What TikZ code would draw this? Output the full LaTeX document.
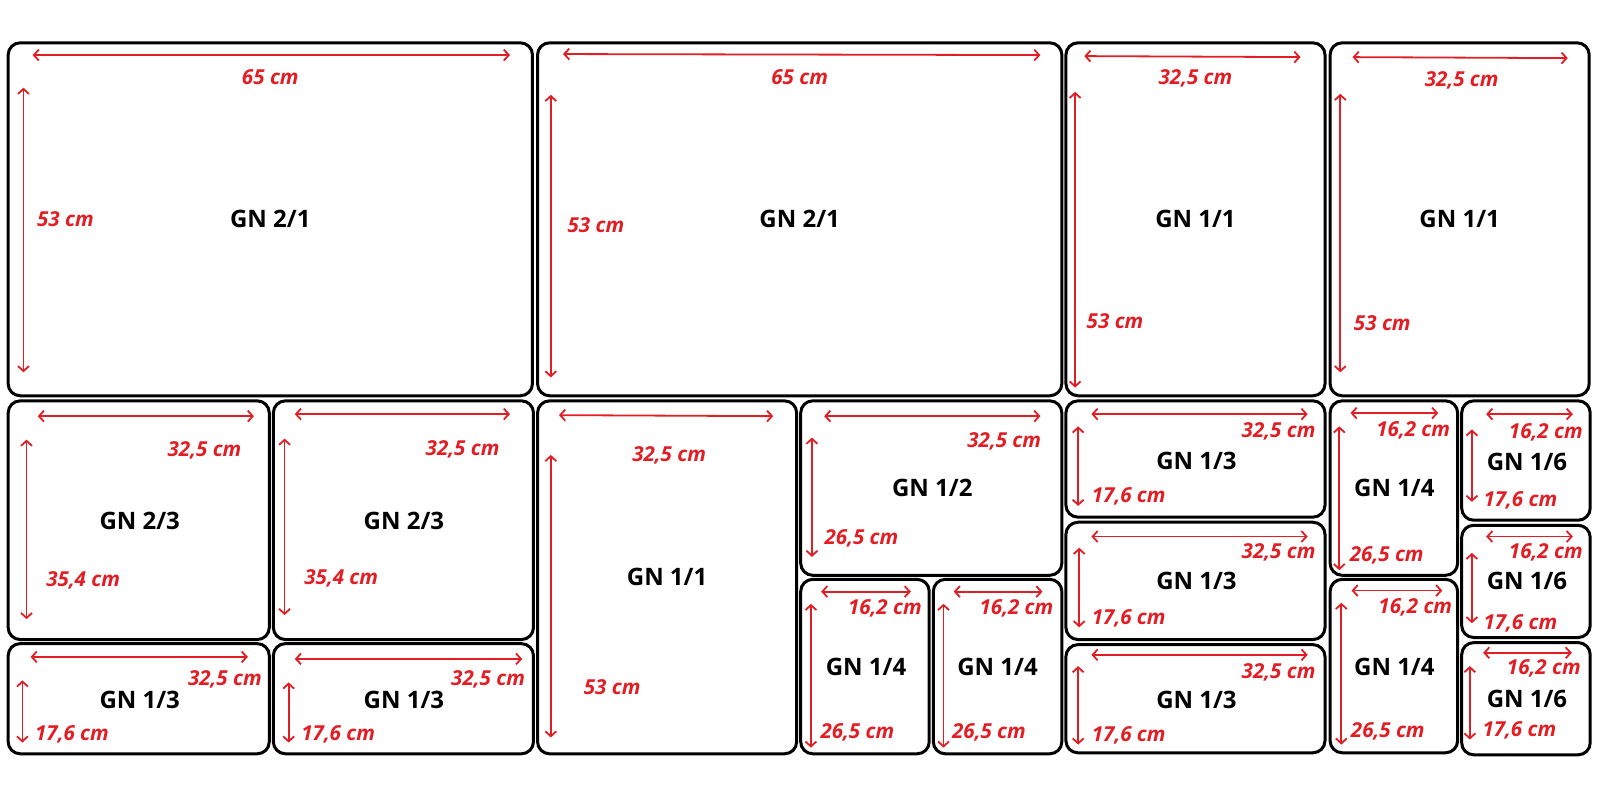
\documentclass[tikz,border=0pt]{standalone}
\usepackage{fontspec}
\setmainfont{Open Sans}
\usetikzlibrary{arrows.meta}
\definecolor{dimred}{RGB}{226,29,36}

\begin{document}
\begin{tikzpicture}[x=0.51pt,y=-0.51pt,
    pan/.style={draw=black,line width=1.5pt,rounded corners=6pt},
    gn/.style={inner sep=0pt,font=\fontsize{12}{14}\selectfont\bfseries},
    dim/.style={draw=dimred,line width=0.9pt,>={Straight Barb[length=2.5pt,width=5.5pt]},<->},
    size/.style={text=dimred,inner sep=0pt,font=\fontsize{10.3}{12}\selectfont\bfseries\itshape}]
    \useasboundingbox (0,0) rectangle (1568.6,784.3);
    % ---- top row: two GN 2/1, two GN 1/1
    % GN 2/1 left
    \draw[pan] (8,42) rectangle (522,388);
    \node[gn] (gnA) at (265,215) {GN 2/1};
    \draw[dim] (32,54) -- (500,54);
    \node[size] (wA) at (265,76) {65 cm};
    \draw[dim] (23,86) -- (23,365);
    \node[size,anchor=west] (hA) at (36,215) {53 cm};
    % GN 2/1 right
    \draw[pan] (527,42) rectangle (1041,388);
    \node[gn] (gnB) at (784,215) {GN 2/1};
    \draw[dim] (552,53) -- (1020,54);
    \node[size] (wB) at (784,76) {65 cm};
    \draw[dim] (540,93) -- (540,370);
    \node[size,anchor=west] (hB) at (556,221) {53 cm};
    % GN 1/1
    \draw[pan] (1045,42) rectangle (1299,388);
    \node[gn] (gnC) at (1172,215) {GN 1/1};
    \draw[dim] (1063,55) -- (1275,56);
    \node[size] (wC) at (1172,77) {32,5 cm};
    \draw[dim] (1054,90) -- (1054,380);
    \node[size,anchor=west] (hC) at (1065,315) {53 cm};
    % GN 1/1
    \draw[pan] (1304,42) rectangle (1558,388);
    \node[gn] (gnD) at (1431,215) {GN 1/1};
    \draw[dim] (1326,56) -- (1537,57);
    \node[size] (wD) at (1433,79) {32,5 cm};
    \draw[dim] (1314,92) -- (1314,365);
    \node[size,anchor=west] (hD) at (1327,317) {53 cm};
    % ---- lower left: GN 2/3 over GN 1/3
    \draw[pan] (8,393) rectangle (264,627);
    \node[gn] (gnE) at (137,511) {GN 2/3};
    \draw[dim] (37,408) -- (249,408);
    \node[size,anchor=east] (wE) at (237,442) {32,5 cm};
    \draw[dim] (26,431) -- (26,607);
    \node[size,anchor=west] (hE) at (45,569) {35,4 cm};
    \draw[pan] (268,393) rectangle (523,627);
    \node[gn] (gnF) at (396,511) {GN 2/3};
    \draw[dim] (289,406) -- (500,406);
    \node[size,anchor=east] (wF) at (490,441) {32,5 cm};
    \draw[dim] (279,430) -- (279,603);
    \node[size,anchor=west] (hF) at (298,567) {35,4 cm};
    \draw[pan] (8,631) rectangle (264,739);
    \node[gn] (gnG) at (137,686) {GN 1/3};
    \draw[dim] (30,644) -- (243,644);
    \node[size,anchor=east] (wG) at (257,666) {32,5 cm};
    \draw[dim] (22,667) -- (22,728);
    \node[size,anchor=west] (hG) at (34,720) {17,6 cm};
    \draw[pan] (268,631) rectangle (523,739);
    \node[gn] (gnH) at (396,686) {GN 1/3};
    \draw[dim] (289,646) -- (512,646);
    \node[size,anchor=east] (wH) at (515,666) {32,5 cm};
    \draw[dim] (283,669) -- (283,728);
    \node[size,anchor=west] (hH) at (295,720) {17,6 cm};
    % ---- middle: GN 1/1, GN 1/2, two GN 1/4
    \draw[pan] (527,393) rectangle (781,739);
    \node[gn] (gnI) at (654,566) {GN 1/1};
    \draw[dim] (548,407) -- (758,408);
    \node[size] (wI) at (656,446) {32,5 cm};
    \draw[dim] (540,446) -- (540,723);
    \node[size,anchor=west] (hI) at (572,674) {53 cm};
    \draw[pan] (785,393) rectangle (1041,564);
    \node[gn] (gnJ) at (914,478) {GN 1/2};
    \draw[dim] (808,408) -- (1020,408);
    \node[size,anchor=east] (wJ) at (1021,433) {32,5 cm};
    \draw[dim] (796,429) -- (796,546);
    \node[size,anchor=west] (hJ) at (808,528) {26,5 cm};
    \draw[pan] (785,568) rectangle (911,739);
    \node[gn] (gnK) at (849,654) {GN 1/4};
    \draw[dim] (805,580) -- (893,580);
    \node[size,anchor=east] (wK) at (904,596) {16,2 cm};
    \draw[dim] (795,592) -- (795,733);
    \node[size,anchor=west] (hK) at (804,718) {26,5 cm};
    \draw[pan] (915,568) rectangle (1041,739);
    \node[gn] (gnL) at (978,654) {GN 1/4};
    \draw[dim] (935,580) -- (1022,580);
    \node[size,anchor=east] (wL) at (1033,596) {16,2 cm};
    \draw[dim] (925,592) -- (925,733);
    \node[size,anchor=west] (hL) at (933,718) {26,5 cm};
    % ---- right: three GN 1/3
    \draw[pan] (1045,393) rectangle (1299,507);
    \node[gn] (gnM) at (1173,452) {GN 1/3};
    \draw[dim] (1070,406) -- (1282,406);
    \node[size,anchor=east] (wM) at (1290,423) {32,5 cm};
    \draw[dim] (1057,418) -- (1057,496);
    \node[size,anchor=west] (hM) at (1070,487) {17,6 cm};
    \draw[pan] (1045,512) rectangle (1299,627);
    \node[gn] (gnN) at (1173,570) {GN 1/3};
    \draw[dim] (1070,526) -- (1282,526);
    \node[size,anchor=east] (wN) at (1290,542) {32,5 cm};
    \draw[dim] (1058,537) -- (1058,615);
    \node[size,anchor=west] (hN) at (1070,606) {17,6 cm};
    \draw[pan] (1045,632) rectangle (1299,738);
    \node[gn] (gnO) at (1173,686) {GN 1/3};
    \draw[dim] (1070,642) -- (1282,642);
    \node[size,anchor=east] (wO) at (1290,659) {32,5 cm};
    \draw[dim] (1057,653) -- (1057,730);
    \node[size,anchor=west] (hO) at (1070,721) {17,6 cm};
    % ---- far right: two GN 1/4, three GN 1/6
    \draw[pan] (1304,393) rectangle (1429,564);
    \node[gn] (gnP) at (1367,478) {GN 1/4};
    \draw[dim] (1324,405) -- (1410,405);
    \node[size,anchor=east] (wP) at (1422,422) {16,2 cm};
    \draw[dim] (1313,418) -- (1313,559);
    \node[size,anchor=west] (hP) at (1323,544) {26,5 cm};
    \draw[pan] (1304,568) rectangle (1429,738);
    \node[gn] (gnQ) at (1367,654) {GN 1/4};
    \draw[dim] (1325,579) -- (1414,579);
    \node[size,anchor=east] (wQ) at (1424,595) {16,2 cm};
    \draw[dim] (1315,591) -- (1315,730);
    \node[size,anchor=west] (hQ) at (1324,717) {26,5 cm};
    \draw[pan] (1433,393) rectangle (1559,510);
    \node[gn] (gnR) at (1497,453) {GN 1/6};
    \draw[dim] (1457,406) -- (1542,406);
    \node[size,anchor=east] (wR) at (1552,424) {16,2 cm};
    \draw[dim] (1443,421) -- (1443,492);
    \node[size,anchor=west] (hR) at (1454,491) {17,6 cm};
    \draw[pan] (1433,515) rectangle (1559,625);
    \node[gn] (gnS) at (1497,570) {GN 1/6};
    \draw[dim] (1457,526) -- (1542,526);
    \node[size,anchor=east] (wS) at (1552,542) {16,2 cm};
    \draw[dim] (1443,542) -- (1443,611);
    \node[size,anchor=west] (hS) at (1454,611) {17,6 cm};
    \draw[pan] (1433,630) rectangle (1559,740);
    \node[gn] (gnT) at (1497,685) {GN 1/6};
    \draw[dim] (1454,640) -- (1541,640);
    \node[size,anchor=east] (wT) at (1550,655) {16,2 cm};
    \draw[dim] (1441,653) -- (1441,725);
    \node[size,anchor=west] (hT) at (1453,716) {17,6 cm};
\end{tikzpicture}
\end{document}
